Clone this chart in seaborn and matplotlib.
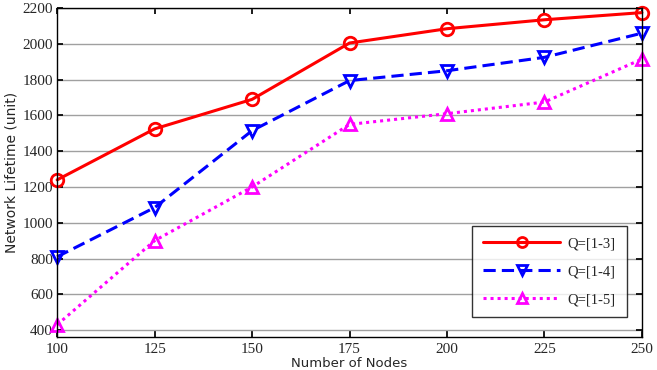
import matplotlib
matplotlib.use("Agg")
import matplotlib.pyplot as plt
import pandas as pd
import seaborn as sns

nodes = [100, 125, 150, 175, 200, 225, 250]
q13 = [1240, 1525, 1690, 2005, 2085, 2135, 2175]
q14 = [810, 1085, 1515, 1795, 1850, 1925, 2060]
q15 = [430, 900, 1200, 1550, 1610, 1675, 1915]
labels = ["Q=[1-3]", "Q=[1-4]", "Q=[1-5]"]

df = pd.DataFrame({
    "nodes": nodes * 3,
    "life": q13 + q14 + q15,
    "series": [labels[0]] * 7 + [labels[1]] * 7 + [labels[2]] * 7,
})

sns.set_theme(style="white")
plt.rcParams["font.family"] = ["Liberation Serif", "DejaVu Serif"]

fig = plt.figure(figsize=(6.57, 3.70), dpi=100)
ax = fig.add_axes([0.087, 0.089, 0.890, 0.889])

styles = {
    labels[0]: dict(color="#ff0000", marker="o", dash=None),
    labels[1]: dict(color="#0000ff", marker="v", dash=(4, 2)),
    labels[2]: dict(color="#ff00ff", marker="^", dash=(1, 1.3)),
}
for lab in labels:
    st = styles[lab]
    sub = df[df["series"] == lab]
    sns.lineplot(data=sub, x="nodes", y="life", ax=ax, color=st["color"],
                 linewidth=2.2, marker=st["marker"], markersize=9,
                 markerfacecolor="none", markeredgecolor=st["color"],
                 markeredgewidth=2, label=lab, clip_on=False)
    line = ax.get_lines()[-1]
    if st["dash"] is not None:
        line.set_dashes(st["dash"])

ax.set_xlim(100, 250)
ax.set_ylim(361, 2200)
ax.set_xticks(nodes)
ax.set_yticks(range(400, 2201, 200))
ax.yaxis.grid(True, color="#a0a0a0", linewidth=1)
ax.xaxis.grid(False)
for s in ax.spines.values():
    s.set_color("black")
    s.set_linewidth(1)
ax.tick_params(axis="both", direction="in", length=4, labelsize=11,
               top=True, right=True, bottom=True, left=True, color="black")
ax.tick_params(axis="x", pad=4)
ax.tick_params(axis="y", pad=3)

ax.set_xlabel("Number of Nodes", family="DejaVu Sans", fontsize=9.5,
              labelpad=1)
ax.set_ylabel("Network Lifetime (unit)", family="DejaVu Sans", fontsize=10,
              labelpad=3)

leg = ax.legend(loc="lower right", bbox_to_anchor=(0.974, 0.061), fontsize=10.5,
                frameon=True, fancybox=False, borderpad=0.75, labelspacing=1.0,
                handlelength=5.3, handletextpad=0.5, markerscale=0.8,
                borderaxespad=0)
leg.get_frame().set_edgecolor("black")
leg.get_frame().set_linewidth(1)

fig.savefig("out.png", dpi=100)
